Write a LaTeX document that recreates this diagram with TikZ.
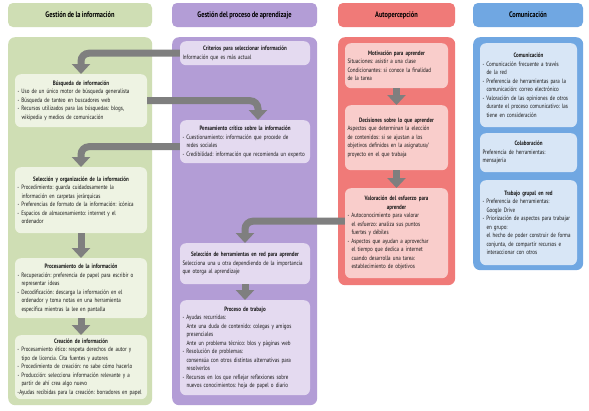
\documentclass[tikz,border=0pt]{standalone}
\usepackage{fontspec}
\setmainfont[FakeStretch=0.8, WordSpace=0.8]{PT Sans}
\usetikzlibrary{arrows.meta}
\frenchspacing
\hyphenpenalty=10000

\definecolor{gcol}{HTML}{CFDEB4}
\definecolor{gcard}{HTML}{EEF3E3}
\definecolor{pcol}{HTML}{B39DD6}
\definecolor{pcard}{HTML}{E4DAF0}
\definecolor{rcol}{HTML}{F07A78}
\definecolor{rcard}{HTML}{F9CDCB}
\definecolor{bcol}{HTML}{70A7E2}
\definecolor{bcard}{HTML}{D8E6F6}
\definecolor{arrowgray}{HTML}{7F7F7F}
\newcommand{\indt}{\hspace*{4pt}}

\begin{document}
\begin{tikzpicture}[x=1pt, y=-1pt,
    head/.style={rounded corners=5pt, minimum height=24pt, inner sep=0pt, font=\fontsize{8}{9}\selectfont\bfseries},
    colbox/.style={rounded corners=7pt, anchor=north west, inner sep=0pt},
    card/.style={rounded corners=6pt, anchor=north, inner xsep=2.5pt, inner ysep=3pt, text=black!90, font=\fontsize{6.3}{8.5}\selectfont},
    flow/.style={draw=arrowgray, line width=7pt, rounded corners=8pt, -{Triangle[width=18pt,length=10pt]}}]
    \fill[white] (0,0) rectangle (589,410);
    \useasboundingbox (0,0) rectangle (589,410);
    \pgfmathsetmacro{\xg}{81}
    \pgfmathsetmacro{\xp}{245}
    \pgfmathsetmacro{\xr}{396.5}
    \pgfmathsetmacro{\xb}{528.5}

    \node[head, fill=gcol, minimum width=144pt] (hgest) at (80,15) {Gestión de la información};
    \node[head, fill=pcol, minimum width=145pt] (hproc) at (244.5,15) {Gestión del proceso de aprendizaje};
    \node[head, fill=rcol, minimum width=117pt] (hauto) at (396.5,15) {Autopercepción};
    \node[head, fill=bcol, minimum width=110pt] (hcomu) at (528,15) {Comunicación};

    \node[colbox, fill=gcol, minimum width=144pt, minimum height=368pt] (cgest) at (8,37) {};
    \node[colbox, fill=pcol, minimum width=145pt, minimum height=368pt] (cproc) at (172,37) {};
    \node[colbox, fill=rcol, minimum width=117pt, minimum height=248pt] (cauto) at (338,37) {};
    \node[colbox, fill=bcol, minimum width=110pt, minimum height=233pt] (ccomu) at (473,37) {};

    \node[card, fill=gcard, text width=127pt, minimum height=53pt] (busq) at (\xg,74) {\centering\textbf{Búsqueda de información}\par\raggedright
        - Uso de un único motor de búsqueda generalista\\
        - Búsqueda de tanteo en buscadores web\\
        - Recursos utilizados para las búsquedas: blogs,\\
        \indt wikipedia y medios de comunicación};
    \node[card, fill=gcard, text width=127pt, minimum height=66pt] (sele) at (\xg,167) {\centering\textbf{Selección y organización de la información}\par\raggedright
        - Procedimiento: guarda cuidadosamente la\\
        \indt información en carpetas jerárquicas\\
        - Preferencias de formato de la información: icónica\\
        - Espacios de almacenamiento: internet y el\\
        \indt ordenador};
    \node[card, fill=gcard, text width=127pt, minimum height=60pt] (proce) at (\xg,258) {\centering\textbf{Procesamiento de la información}\par\raggedright
        - Recuperación: preferencia de papel para escribir o\\
        \indt representar ideas\\
        - Decodificación: descarga la información en el\\
        \indt ordenador y toma notas en una herramienta\\
        \indt específica mientras la lee en pantalla};
    \node[card, fill=gcard, text width=127pt, minimum height=64pt] (crea) at (\xg,335) {\centering\textbf{Creación de información}\par\raggedright
        - Procesamiento ético: respeta derechos de autor y\\
        \indt tipo de licencia. Cita fuentes y autores\\
        - Procedimiento de creación: no sabe cómo hacerlo\\
        - Producción: selecciona información relevante y a\\
        \indt partir de ahí crea algo nuevo\\
        -Ayudas recibidas para la creación: borradores en papel};

    \node[card, fill=pcard, text width=125pt, minimum height=24pt] (crit) at (\xp,41) {\centering\textbf{Criterios para seleccionar información}\par\raggedright
        Información que es más actual};
    \node[card, fill=pcard, text width=125pt, minimum height=43pt] (pens) at (\xp,120) {\centering\textbf{Pensamiento crítico sobre la información}\par\raggedright
        - Cuestionamiento: información que procede de\\
        \indt redes sociales\\
        - Credibilidad: información que recomienda un experto};
    \node[card, fill=pcard, text width=125pt, minimum height=41pt] (herr) at (\xp,243) {\centering\textbf{Selección de herramientas en red para aprender}\par\raggedright
        Selecciona una u otra dependiendo de la importancia\\
        que otorga al aprendizaje};
    \node[card, fill=pcard, text width=125pt, minimum height=95pt] (trab) at (\xp,300) {\centering\textbf{Proceso de trabajo}\par\raggedright
        - Ayudas recurridas:\\
        \indt Ante una duda de contenido: colegas y amigos\\
        \indt presenciales\\
        \indt Ante un problema técnico: blos y páginas web\\
        - Resolución de problemas:\\
        \indt consensúa con otros distintas alternativas para\\
        \indt resolverlos\\
        - Recursos en los que reflejar reflexiones sobre\\
        \indt nuevos conocimientos: hoja de papel o diario};

    \node[card, fill=rcard, text width=98pt, minimum height=45pt] (moti) at (\xr,43) {\centering\textbf{Motivación para aprender}\par\raggedright
        Situaciones: asistir a una clase\\
        Condicionantes: si conoce la finalidad\\
        de la tarea};
    \node[card, fill=rcard, text width=98pt, minimum height=65pt] (deci) at (\xr,105) {\centering\textbf{Decisiones sobre lo que aprender}\par\raggedright
        Aspectos que determinan la elección\\
        de contenidos: si se ajustan a los\\
        objetivos definidos en la asignatura/\\
        proyecto en el que trabaja};
    \node[card, fill=rcard, text width=98pt, minimum height=90pt] (valo) at (\xr,188) {\centering\textbf{Valoración del esfuerzo para\\aprender}\par\raggedright
        - Autoconocimiento para valorar\\
        \indt el esfuerzo: analiza sus puntos\\
        \indt fuertes y débiles\\
        - Aspectos que ayudan a aprovechar\\
        \indt el tiempo que dedica a internet\\
        \indt cuando desarrolla una tarea:\\
        \indt establecimiento de objetivos};

    \node[card, fill=bcard, text width=92pt, minimum height=84pt] (comu) at (\xb,43) {\centering\textbf{Comunicación}\par\raggedright
        - Comunicación frecuente a través\\
        \indt de la red\\
        - Preferencia de herramientas para la\\
        \indt comunicación: correo electrónico\\
        - Valoración de las opiniones de otros\\
        \indt durante el proceso comunicativo: las\\
        \indt tiene en consideración};
    \node[card, fill=bcard, text width=92pt, minimum height=39pt] (cola) at (\xb,133) {\centering\textbf{Colaboración}\par\raggedright
        Preferencia de herramientas:\\
        mensajería};
    \node[card, fill=bcard, text width=92pt, minimum height=85pt] (grup) at (\xb,180) {\centering\textbf{Trabajo grupal en red}\par\raggedright
        - Preferencia de herramientas:\\
        \indt Google Drive\\
        - Priorización de aspectos para trabajar\\
        \indt en grupo:\\
        \indt el hecho de poder construir de forma\\
        \indt conjunta, de compartir recursos e\\
        \indt interaccionar con otros};

    \draw[flow] (crit.west) -| (busq.north);
    \draw[flow] (busq.east) -| ([xshift=13pt]pens.north);
    \draw[flow] ([yshift=-5pt]pens.west) -| (sele.north);
    \draw[flow] (sele.south) -- (proce.north);
    \draw[flow] (proce.south) -- (crea.north);
    \draw[flow] ([yshift=12pt]valo.west) -| (herr.north);
    \draw[flow] (herr.south) -- (trab.north);
    \draw[flow] (moti.south) -- (deci.north);
    \draw[flow] (deci.south) -- (valo.north);
\end{tikzpicture}
\end{document}
